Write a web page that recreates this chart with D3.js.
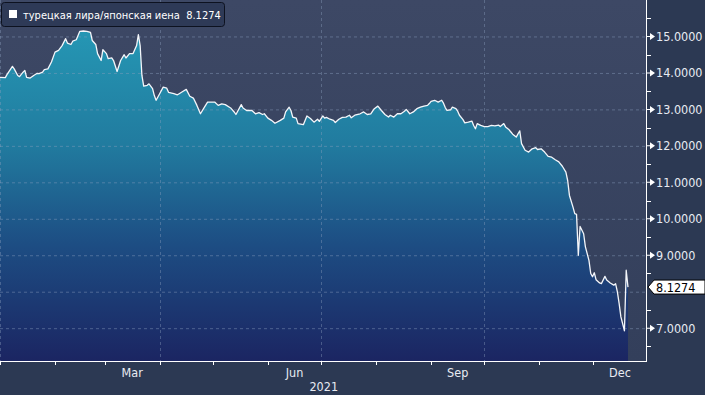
<!DOCTYPE html>
<html><head><meta charset="utf-8">
<script src="https://cdn.jsdelivr.net/npm/d3@7"></script>
<style>html,body{margin:0;padding:0;background:#2c3953;}svg{display:block}</style>
</head><body>
<svg id="c" width="705" height="395"></svg>
<script>
const seriesName = "турецкая лира/японская иена";
const lastValueText = "8.1274";
const yearLabel = "2021";
const monthLabels = ["Mar", "Jun", "Sep", "Dec"];
const labelMonthStarts = ["2021-03-01", "2021-06-01", "2021-09-01", "2021-12-01"];
const gridMonthStarts = ["2021-01-01", "2021-04-01", "2021-07-01", "2021-10-01"];
const yTickValues = [7, 9, 10, 11, 12, 13, 14, 15];
const yGridValues = [7, 8, 9, 10, 11, 12, 13, 14, 15];

const dates = [
"2021-01-01","2021-01-04","2021-01-05","2021-01-08","2021-01-09","2021-01-11","2021-01-12","2021-01-14","2021-01-15","2021-01-16",
"2021-01-18","2021-01-20","2021-01-22","2021-01-23","2021-01-25","2021-01-26","2021-01-28","2021-01-30","2021-02-01","2021-02-03",
"2021-02-05","2021-02-07","2021-02-08","2021-02-10","2021-02-11","2021-02-13","2021-02-15","2021-02-17","2021-02-19","2021-02-21",
"2021-02-22","2021-02-24","2021-02-25","2021-02-27","2021-02-28","2021-03-02","2021-03-03","2021-03-05","2021-03-06","2021-03-08",
"2021-03-10","2021-03-12","2021-03-13","2021-03-15","2021-03-17","2021-03-19","2021-03-20","2021-03-21","2021-03-22","2021-03-23",
"2021-03-25","2021-03-26","2021-03-28","2021-03-29","2021-03-30","2021-04-01","2021-04-03","2021-04-05","2021-04-06","2021-04-09",
"2021-04-11","2021-04-12","2021-04-14","2021-04-16","2021-04-18","2021-04-20","2021-04-22","2021-04-24","2021-04-26","2021-04-28",
"2021-04-30","2021-05-02","2021-05-04","2021-05-06","2021-05-08","2021-05-11","2021-05-13","2021-05-14","2021-05-17","2021-05-18",
"2021-05-20","2021-05-23","2021-05-25","2021-05-27","2021-05-29","2021-05-30","2021-06-01","2021-06-03","2021-06-05","2021-06-08",
"2021-06-10","2021-06-11","2021-06-13","2021-06-14","2021-06-15","2021-06-17","2021-06-18","2021-06-21","2021-06-23","2021-06-25",
"2021-06-27","2021-06-29","2021-06-30","2021-07-02","2021-07-03","2021-07-04","2021-07-06","2021-07-08","2021-07-09","2021-07-11",
"2021-07-13","2021-07-15","2021-07-17","2021-07-18","2021-07-20","2021-07-23","2021-07-25","2021-07-27","2021-07-29","2021-07-31",
"2021-08-02","2021-08-04","2021-08-06","2021-08-08","2021-08-09","2021-08-11","2021-08-13","2021-08-15","2021-08-17","2021-08-18",
"2021-08-20","2021-08-22","2021-08-24","2021-08-26","2021-08-28","2021-08-30","2021-08-31","2021-09-01","2021-09-03","2021-09-05",
"2021-09-07","2021-09-08","2021-09-09","2021-09-10","2021-09-12","2021-09-13","2021-09-15","2021-09-16","2021-09-17","2021-09-19",
"2021-09-20","2021-09-22","2021-09-24","2021-09-25","2021-09-26","2021-09-27","2021-09-29","2021-10-01","2021-10-03","2021-10-05",
"2021-10-07","2021-10-09","2021-10-10","2021-10-12","2021-10-13","2021-10-15","2021-10-16","2021-10-17","2021-10-19","2021-10-20",
"2021-10-21","2021-10-22","2021-10-24","2021-10-26","2021-10-28","2021-10-30","2021-10-31","2021-11-02","2021-11-04","2021-11-06",
"2021-11-08","2021-11-10","2021-11-12","2021-11-14","2021-11-16","2021-11-17","2021-11-18","2021-11-20","2021-11-21","2021-11-22",
"2021-11-23","2021-11-24","2021-11-26","2021-11-27","2021-11-29","2021-11-30","2021-12-01","2021-12-02","2021-12-03","2021-12-05",
"2021-12-06","2021-12-08","2021-12-09","2021-12-11","2021-12-13","2021-12-14","2021-12-15","2021-12-16","2021-12-17","2021-12-19",
"2021-12-20","2021-12-21"
];
const rates = [
13.88,13.87,13.96,14.18,14.11,13.93,13.90,14.02,14.07,13.88,
13.86,13.93,13.99,13.98,14.02,14.09,14.11,14.30,14.57,14.62,
14.75,14.94,14.82,14.78,14.87,14.91,15.14,15.15,15.14,15.11,
14.89,14.78,14.53,14.34,14.64,14.53,14.39,14.41,14.34,14.04,
14.34,14.50,14.41,14.53,14.53,14.75,15.05,14.75,13.93,13.64,
13.66,13.70,13.57,13.38,13.25,13.43,13.61,13.58,13.47,13.43,
13.40,13.43,13.49,13.55,13.36,13.31,13.11,12.88,13.04,13.20,
13.20,13.20,13.11,13.15,13.13,13.04,12.93,12.86,13.13,13.04,
12.97,12.97,12.88,12.91,12.86,12.88,12.76,12.70,12.62,12.70,
12.76,12.93,13.06,12.97,12.79,12.76,12.61,12.58,12.82,12.75,
12.65,12.73,12.67,12.82,12.76,12.78,12.73,12.70,12.64,12.73,
12.78,12.79,12.84,12.77,12.84,12.88,12.93,12.86,12.88,13.02,
13.09,12.97,12.86,12.79,12.84,12.79,12.88,12.88,12.95,13.00,
12.88,12.93,13.02,13.06,13.09,13.11,13.16,13.22,13.25,13.20,
13.25,13.17,13.05,12.97,12.99,13.06,13.02,12.95,12.84,12.72,
12.63,12.65,12.68,12.56,12.47,12.61,12.56,12.53,12.53,12.56,
12.55,12.57,12.53,12.61,12.52,12.44,12.38,12.32,12.24,12.33,
12.41,12.06,11.88,11.83,11.92,11.95,11.90,11.92,11.83,11.71,
11.69,11.62,11.56,11.44,11.28,11.05,10.64,10.32,10.14,10.12,
9.00,9.79,9.59,9.23,8.86,8.50,8.41,8.52,8.33,8.24,
8.22,8.42,8.32,8.24,8.18,8.22,8.00,7.68,7.31,6.93,
8.59,8.1274
];

const parse = d3.timeParse("%Y-%m-%d");
const data = dates.map((d, i) => ({ date: parse(d), value: rates[i] }));

const W = 705, H = 395;
const plotL = 0, plotR = 646, plotT = 0, plotB = 361;

const x = d3.scaleTime()
  .domain([parse("2021-01-01"), parse("2022-01-01")])
  .range([plotL, 647.5]);
const y = d3.scaleLinear().domain([6.1, 16]).range([plotB, plotT]);

const svg = d3.select("#c");
const defs = svg.append("defs");

const bgGrad = defs.append("linearGradient").attr("id", "bg")
  .attr("x1", 0).attr("y1", 0).attr("x2", 0).attr("y2", 1);
bgGrad.append("stop").attr("offset", 0).attr("stop-color", "#3d4865");
bgGrad.append("stop").attr("offset", 1).attr("stop-color", "#333f5b");

const areaGrad = defs.append("linearGradient").attr("id", "ag")
  .attr("gradientUnits", "userSpaceOnUse")
  .attr("x1", 0).attr("y1", y(15.2)).attr("x2", 0).attr("y2", plotB);
areaGrad.append("stop").attr("offset", 0).attr("stop-color", "#2597b4");
areaGrad.append("stop").attr("offset", 0.35).attr("stop-color", "#217b9f");
areaGrad.append("stop").attr("offset", 0.65).attr("stop-color", "#1d4d83");
areaGrad.append("stop").attr("offset", 1).attr("stop-color", "#1b2562");

defs.append("clipPath").attr("id", "clip").append("rect")
  .attr("x", plotL).attr("y", plotT).attr("width", plotR - plotL).attr("height", plotB - plotT);

svg.append("rect").attr("width", W).attr("height", H).attr("fill", "#2c3953");
svg.append("rect").attr("x", plotL).attr("y", plotT)
  .attr("width", plotR - plotL).attr("height", plotB - plotT).attr("fill", "url(#bg)");

const g = svg.append("g").attr("clip-path", "url(#clip)");

const area = d3.area().x(d => x(d.date)).y0(plotB).y1(d => y(d.value));
const line = d3.line().x(d => x(d.date)).y(d => y(d.value));

g.append("path").datum(data).attr("d", area).attr("fill", "url(#ag)");

// grid
g.selectAll(".hg").data(yGridValues).enter().append("line")
  .attr("x1", plotL).attr("x2", plotR)
  .attr("y1", d => y(d) + 0.5).attr("y2", d => y(d) + 0.5)
  .attr("stroke", "rgba(140,160,190,0.45)").attr("stroke-width", 1)
  .attr("stroke-dasharray", "3,3");
g.selectAll(".vg").data(gridMonthStarts.map(parse)).enter().append("line")
  .attr("x1", d => Math.round(x(d)) + 0.5).attr("x2", d => Math.round(x(d)) + 0.5)
  .attr("y1", plotT).attr("y2", plotB)
  .attr("stroke", "rgba(140,160,190,0.4)").attr("stroke-width", 1)
  .attr("stroke-dasharray", "3,3");

g.append("path").datum(data).attr("d", line)
  .attr("fill", "none").attr("stroke", "#f4f6fa").attr("stroke-width", 1.3)
  .attr("stroke-linejoin", "round");

// right axis
const axisFont = "'DejaVu Sans Condensed', 'DejaVu Sans', sans-serif";
svg.append("line").attr("x1", plotR + 0.5).attr("x2", plotR + 0.5)
  .attr("y1", 0).attr("y2", plotB + 0.5).attr("stroke", "#ffffff").attr("stroke-width", 1);
const minorTicks = d3.range(6.5, 16, 1);
svg.selectAll(".mt").data(minorTicks.filter(v => y(v) > 0 && y(v) < plotB)).enter().append("line")
  .attr("x1", plotR).attr("x2", plotR + 5)
  .attr("y1", d => Math.round(y(d)) + 0.5).attr("y2", d => Math.round(y(d)) + 0.5)
  .attr("stroke", "#ffffff");
const yAxisG = svg.append("g");
yAxisG.selectAll(".tri").data(yTickValues).enter().append("path")
  .attr("transform", d => `translate(${plotR},${y(d)})`)
  .attr("d", "M0,-0.5 L4,-0.5 L4,-3.5 L9,0 L4,3.5 L4,0.5 L0,0.5 Z")
  .attr("fill", "#ffffff");
yAxisG.selectAll(".lab").data(yTickValues).enter().append("text")
  .attr("x", plotR + 10).attr("y", d => y(d) + 4.5)
  .attr("fill", "#e8ebf2").attr("font-family", axisFont).attr("font-size", 12.5)
  .text(d => d3.format(".4f")(d));

// last value tag
const lastY = y(rates[rates.length - 1]);
const tag = svg.append("g").attr("transform", `translate(${plotR + 2},${lastY})`);
tag.append("path").attr("d", "M0,0 L6,-7 L57,-7 L57,7 L6,7 Z")
  .attr("fill", "#ffffff").attr("stroke", "#000000").attr("stroke-width", 1);
tag.append("text").attr("x", 8).attr("y", 4.5)
  .attr("fill", "#000000").attr("font-family", axisFont).attr("font-size", 12.5)
  .text(lastValueText);

// bottom axis
svg.append("line").attr("x1", 0).attr("x2", plotR + 1)
  .attr("y1", plotB + 0.5).attr("y2", plotB + 0.5).attr("stroke", "#ffffff");
const monthTicks = d3.timeMonth.range(parse("2021-01-01"), parse("2021-12-31"));
svg.selectAll(".xt").data(monthTicks).enter().append("line")
  .attr("x1", d => Math.round(x(d)) + 0.5).attr("x2", d => Math.round(x(d)) + 0.5)
  .attr("y1", plotB).attr("y2", plotB + 4).attr("stroke", "#ffffff");
svg.selectAll(".xl").data(monthLabels).enter().append("text")
  .attr("x", (d, i) => {
    const s = parse(labelMonthStarts[i]);
    const e = d3.timeMonth.offset(s, 1);
    return (x(s) + x(e)) / 2;
  })
  .attr("y", plotB + 15.5).attr("text-anchor", "middle")
  .attr("fill", "#e8ebf2").attr("font-family", axisFont).attr("font-size", 12.5)
  .text(d => d);
svg.append("text").attr("x", (x(parse("2021-01-01")) + x(parse("2022-01-01"))) / 2)
  .attr("y", plotB + 29.5).attr("text-anchor", "middle")
  .attr("fill", "#e8ebf2").attr("font-family", axisFont).attr("font-size", 12.5)
  .text(yearLabel);

// legend
const leg = svg.append("g");
leg.append("rect").attr("x", 1.5).attr("y", 2.5).attr("width", 223).attr("height", 24)
  .attr("rx", 3).attr("fill", "#2e3a57").attr("stroke", "#0d1220").attr("stroke-width", 1);
leg.append("rect").attr("x", 9).attr("y", 10).attr("width", 8).attr("height", 8).attr("fill", "#ffffff");
leg.append("text").attr("x", 23).attr("y", 18.5)
  .attr("fill", "#ffffff").attr("font-family", axisFont).attr("font-size", 11)
  .attr("xml:space", "preserve")
  .text(seriesName + "  " + lastValueText);
</script>
</body></html>
